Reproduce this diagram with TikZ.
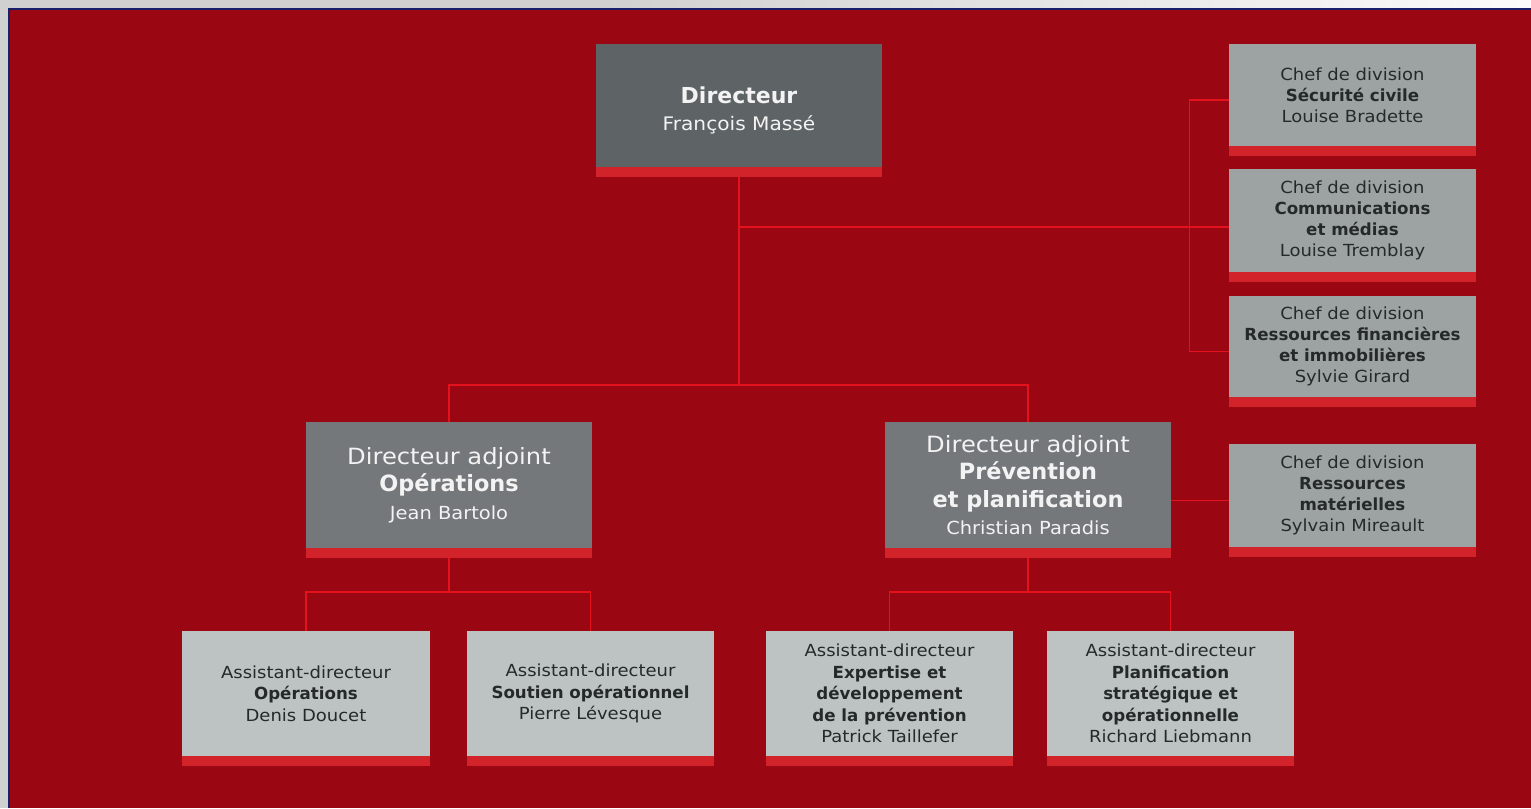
\documentclass[tikz,border=0pt]{standalone}
\usepackage{fontspec}
\setmainfont{DejaVu Sans}[FakeStretch=1.08, BoldFont={DejaVu Sans Bold}, BoldFeatures={FakeStretch=1.0}]
\usetikzlibrary{calc}
\definecolor{bgred}{HTML}{9A0612}
\definecolor{barred}{HTML}{D2222A}
\definecolor{linkred}{HTML}{E3121C}
\definecolor{darkbox}{HTML}{5E6465}
\definecolor{midbox}{HTML}{74787A}
\definecolor{sidebox}{HTML}{9DA3A3}
\definecolor{lowbox}{HTML}{BDC3C3}
\definecolor{txtdark}{HTML}{25292A}
\definecolor{txtlight}{HTML}{F3F3F3}
\definecolor{navy}{HTML}{1B1F6B}
\definecolor{margin}{HTML}{D0D0D0}
\tikzset{
  bx/.style 2 args={minimum width=#1*0.75pt, minimum height=#2*0.75pt, inner sep=0pt, align=center},
  topbox/.style={fill=darkbox, text=txtlight, font=\fontsize{14}{20}\selectfont},
  dabox/.style={fill=midbox, text=txtlight, font=\fontsize{16.8}{20.5}\selectfont},
  sidebx/.style={fill=sidebox, text=txtdark, font=\fontsize{12.5}{15.75}\selectfont},
  lowbx/.style={fill=lowbox, text=txtdark, font=\fontsize{12.5}{16.2}\selectfont},
  link/.style={draw=linkred, line width=1.1pt},
  redbar/.style={fill=barred}
}
\begin{document}
\begin{tikzpicture}[x=0.75pt, y=-0.75pt]
\useasboundingbox (0,0) rectangle (1531,808);
% background
\fill[margin] (0,0) rectangle (1531,808);
\shade[left color=margin, right color=white!92!margin] (600,0) rectangle (1531,9);
\fill[bgred] (10,10) rectangle (1531,808);
\draw[navy, line width=1.3pt] (9,808) -- (9,9) -- (1531,9);

% boxes
\node[bx={286}{123}, topbox] (dir) at (739,105.5)
  {\rule{0pt}{20pt}{\fontsize{16.5}{20}\selectfont\bfseries Directeur}\\François Massé};

\node[bx={247}{102}, sidebx] (sc) at (1352.5,95)
  {Chef de division\\\textbf{Sécurité civile}\\Louise Bradette};
\node[bx={247}{103}, sidebx] (com) at (1352.5,220.5)
  {Chef de division\\\textbf{Communications}\\\textbf{et médias}\\Louise Tremblay};
\node[bx={247}{101}, sidebx] (rf) at (1352.5,346.5)
  {Chef de division\\\textbf{Ressources financières}\\\textbf{et immobilières}\\Sylvie Girard};
\node[bx={247}{103}, sidebx] (rm) at (1352.5,495.5)
  {Chef de division\\\textbf{Ressources}\\\textbf{matérielles}\\Sylvain Mireault};

\node[bx={286}{126}, dabox] (dao) at (449,485)
  {Directeur adjoint\\\textbf{Opérations}\\{\fontsize{13.5}{16}\selectfont Jean Bartolo}};
\node[bx={286}{126}, dabox] (dap) at (1028,485)
  {Directeur adjoint\\\textbf{Prévention}\\\textbf{et planification}\\{\fontsize{13.5}{16}\selectfont Christian Paradis}};

\node[bx={248}{125}, lowbx] (ao) at (306,693.5)
  {Assistant-directeur\\\textbf{Opérations}\\Denis Doucet};
\node[bx={247}{125}, lowbx] (aso) at (590.5,693.5)
  {Assistant-directeur\\\textbf{Soutien opérationnel}\\Pierre Lévesque};
\node[bx={247}{125}, lowbx] (aex) at (889.5,693.5)
  {Assistant-directeur\\\textbf{Expertise et}\\\textbf{développement}\\\textbf{de la prévention}\\Patrick Taillefer};
\node[bx={247}{125}, lowbx] (apl) at (1170.5,693.5)
  {Assistant-directeur\\\textbf{Planification}\\\textbf{stratégique et}\\\textbf{opérationnelle}\\Richard Liebmann};

% red bars
\foreach \n in {dir,sc,com,rf,rm,dao,dap,ao,aso,aex,apl}
  \fill[redbar] (\n.south west) rectangle ([yshift=-7.5pt]\n.south east);

% connectors
\coordinate (dirb) at ([yshift=-7.5pt]dir.south);
\coordinate (h1) at (739,385);
\coordinate (j1) at (739,227);
\draw[link] (dirb) -- (h1);
\draw[link] (dao.north) |- (h1) -| (dap.north);
\draw[link] (j1) -- (j1 -| com.west);

\coordinate (scw) at ([yshift=-3.75pt]sc.west);
\coordinate (rfw) at ([yshift=-3.75pt]rf.west);
\draw[link] (scw) -- ++(-39,0) |- (rfw);

\coordinate (rmw) at ([yshift=-3.75pt]rm.west);
\draw[link] (rmw -| dap.east) -- (rmw);

\coordinate (daob) at ([yshift=-7.5pt]dao.south);
\coordinate (h2) at (449,592);
\draw[link] (daob) -- (h2);
\draw[link] (ao.north) |- (h2) -| (aso.north);

\coordinate (dapb) at ([yshift=-7.5pt]dap.south);
\coordinate (h3) at (1028,592);
\draw[link] (dapb) -- (h3);
\draw[link] (aex.north) |- (h3) -| (apl.north);
\end{tikzpicture}
\end{document}
